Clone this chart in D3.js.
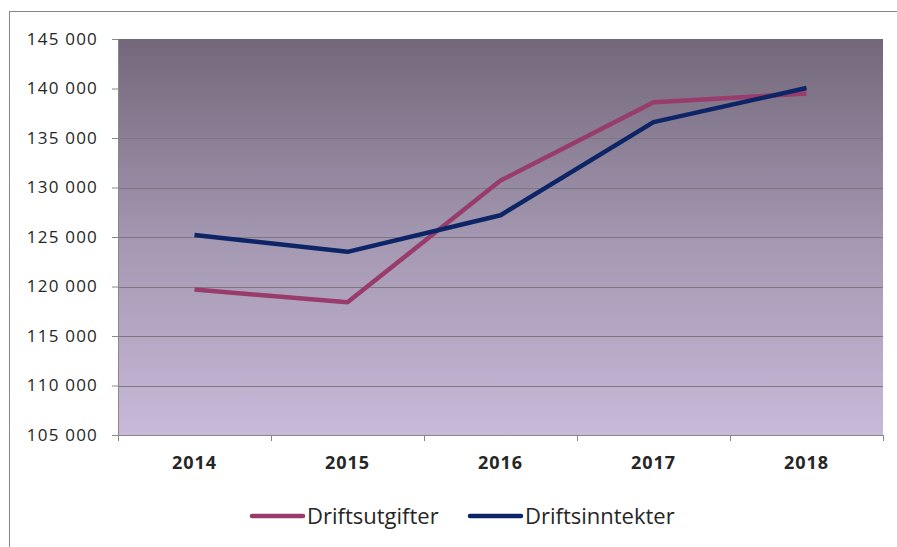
<!DOCTYPE html>
<html>
<head>
<meta charset="utf-8">
<script src="https://d3js.org/d3.v7.min.js"></script>
<style>
    body { margin: 0; background: #fff; }
    text { font-family: "Open Sans", sans-serif; fill: #262626; }
</style>
</head>
<body>
<svg width="897" height="547"></svg>
<script>
    var years = ["2014", "2015", "2016", "2017", "2018"];
    var utgifter = [119700, 118400, 130700, 138600, 139500];
    var inntekter = [125200, 123500, 127200, 136600, 140050];
    var seriesNames = ["Driftsutgifter", "Driftsinntekter"];
    var seriesColors = ["#983c6c", "#0d2566"];
    var yTicks = [105000, 110000, 115000, 120000, 125000, 130000, 135000, 140000, 145000];

    var svg = d3.select("svg");
    var plotL = 118, plotR = 883, plotT = 39, plotB = 435;

    // ytre ramme
    svg.append("rect")
        .attr("x", 9.5).attr("y", 11.5)
        .attr("width", 900).attr("height", 600)
        .attr("fill", "none").attr("stroke", "#888").attr("stroke-width", 1);

    var defs = svg.append("defs");
    var grad = defs.append("linearGradient")
        .attr("id", "bg").attr("x1", 0).attr("y1", 0).attr("x2", 0).attr("y2", 1);
    grad.append("stop").attr("offset", "0%").attr("stop-color", "#73677a");
    grad.append("stop").attr("offset", "50%").attr("stop-color", "#a397b1");
    grad.append("stop").attr("offset", "100%").attr("stop-color", "#c8b9d8");

    var x = d3.scaleBand().domain(years).range([plotL, plotR]);
    var y = d3.scaleLinear().domain([105000, 145000]).range([plotB, plotT]);

    svg.append("rect")
        .attr("x", plotL).attr("y", plotT)
        .attr("width", plotR - plotL).attr("height", plotB - plotT)
        .attr("fill", "url(#bg)");

    // rutenett
    svg.append("g").selectAll("line")
        .data(yTicks.slice(1, -1))
        .enter().append("line")
        .attr("x1", plotL).attr("x2", plotR)
        .attr("y1", function (d) { return Math.round(y(d)) + 0.5; })
        .attr("y2", function (d) { return Math.round(y(d)) + 0.5; })
        .attr("stroke", "#7d7880").attr("stroke-width", 1);

    // y-akse
    var yAxis = svg.append("g")
        .attr("transform", "translate(" + plotL + ",0)")
        .call(d3.axisLeft(y).tickValues(yTicks).tickSize(6).tickPadding(14)
            .tickFormat(function (d) { return d3.format(",")(d).replace(",", " "); }));
    yAxis.select(".domain").attr("stroke", "#888");
    yAxis.selectAll(".tick line").attr("stroke", "#888");
    yAxis.selectAll("text").style("font-size", "17px").style("letter-spacing", "1.2px").attr("fill", "#262626");

    // x-akse
    var xAxis = svg.append("g")
        .attr("transform", "translate(0," + plotB + ")")
        .call(d3.axisBottom(x).tickSize(0).tickPadding(21));
    xAxis.select(".domain").attr("stroke", "#888");
    xAxis.selectAll("text").style("font-size", "18px").style("font-weight", "bold")
        .style("letter-spacing", "1px").attr("fill", "#262626");
    xAxis.append("g").selectAll("line")
        .data(d3.range(years.length + 1))
        .enter().append("line")
        .attr("x1", function (i) { return Math.round(plotL + i * x.step()) + 0.5; })
        .attr("x2", function (i) { return Math.round(plotL + i * x.step()) + 0.5; })
        .attr("y1", 0).attr("y2", 6)
        .attr("stroke", "#888");

    var line = d3.line()
        .x(function (d, i) { return x(years[i]) + x.bandwidth() / 2; })
        .y(function (d) { return y(d); });

    [utgifter, inntekter].forEach(function (s, k) {
        svg.append("path")
            .datum(s)
            .attr("d", line)
            .attr("fill", "none")
            .attr("stroke", seriesColors[k])
            .attr("stroke-width", 4.5)
            .attr("stroke-linejoin", "round");
    });

    // forklaring
    var legX = [252, 470];
    seriesNames.forEach(function (n, k) {
        var g = svg.append("g").attr("transform", "translate(" + legX[k] + ",516)");
        g.append("line")
            .attr("x1", 0).attr("x2", 51).attr("y1", 0).attr("y2", 0)
            .attr("stroke", seriesColors[k]).attr("stroke-width", 4.5)
            .attr("stroke-linecap", "round");
        g.append("text")
            .attr("x", 55).attr("y", 0).attr("dy", "0.35em")
            .style("font-size", "22px")
            .text(n);
    });
</script>
</body>
</html>
